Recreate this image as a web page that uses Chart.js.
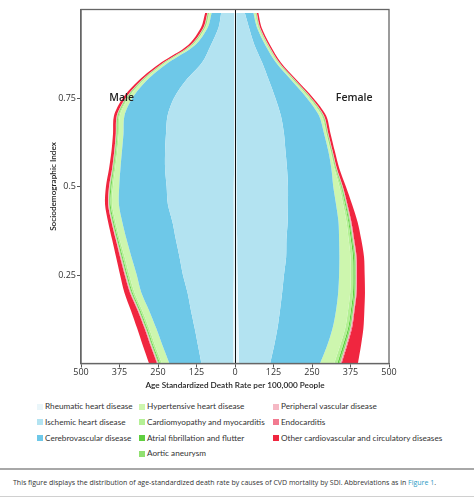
<!DOCTYPE html>
<html><head><meta charset="utf-8">
<script src="https://cdn.jsdelivr.net/npm/chart.js@4"></script>
<style>
html,body{margin:0;padding:0;background:#fff;}
body{width:474px;height:499px;position:relative;overflow:hidden;font-family:"Open Sans",sans-serif;}
#wrap{position:absolute;left:0;top:0;width:474px;height:400px;}
.item{position:absolute;font-family:Lato,sans-serif;font-size:8.2px;color:#333;white-space:nowrap;line-height:10px;}
.sw{position:absolute;width:6px;height:6px;}
#rule{position:absolute;left:0;top:468px;width:474px;height:2px;background:#a8a8a8;}
#rule2{position:absolute;left:0;top:496px;width:474px;height:1px;background:#d0d0d0;}
#caption{position:absolute;left:13px;top:478px;font-size:7px;color:#333;white-space:nowrap;}
#caption span{color:#2a9ac4;}
</style>
</head><body>
<div id="wrap"><canvas id="c" width="474" height="400"></canvas></div>
<div id="legend"></div>
<div id="rule"></div>
<div id="caption">This figure displays the distribution of age-standardized death rate by causes of CVD mortality by SDI. Abbreviations as in <span>Figure 1</span>.</div>
<div id="rule2"></div>
<script>
// Sociodemographic Index sample points (y axis)
const sdi = [0,0.05,0.1,0.15,0.2,0.25,0.3,0.35,0.4,0.45,0.5,0.55,0.6,0.65,0.7,0.75,0.8,0.85,0.9,0.95,0.99];
const causes = ["Rheumatic heart disease","Ischemic heart disease","Cerebrovascular disease","Hypertensive heart disease","Cardiomyopathy and myocarditis","Atrial fibrillation and flutter","Aortic aneurysm","Peripheral vascular disease","Endocarditis","Other cardiovascular and circulatory diseases"];
const colors = ["#eaf6fa","#b3e3f1","#6ec8e8","#cdf6ae","#b4f095","#5fcf3f","#90e070","#f5b8c4","#f27a90","#f0263f"];
const xTicks = [-500,-375,-250,-125,0,125,250,375,500];
const sdiTicks = [0.25,0.5,0.75];

// Male (per 100,000)
const mRheumatic = [5,5,5,5,5,4,4,4,4,4,4,3,3,3,3,3,3,3,3,3,3];
const mIschemic  = [104,115,126,138,149,165,176,188,199,214,218,224,224,221,216,195,156,104,75,50,42];
const mCerebro   = [104,115,125,136,150,150,156,160,163,159,154,145,140,138,140,135,127,109,51,35,31];
const mHypert    = [24,24,23,22,22,24,22,22,22,22,20,17,15,15,15,13,10,9,8,7,7];
const mCardio    = [6,6,6,6,6,6,6,5,5,5,5,4,4,4,4,3,3,2,2,2,2];
const mAfib      = [3,3,3,3,3,3,3,3,3,3,3,2,2,2,2,2,2,2,2,2,2];
const mAortic    = [3,2,2,2,2,2,2,2,2,2,2,2,2,2,2,2,1,1,1,1,1];
const mPeriph    = [2,2,2,2,2,2,2,2,2,2,2,1,1,1,1,1,1,1,1,1,1];
const mEndo      = [2,2,2,2,2,2,2,1,1,1,1,1,1,1,1,1,1,1,1,1,1];
const mOther     = [26,25,24,22,18,15,13,12,11,10,10,10,9,9,9,9,8,8,8,8,7];

// Female (per 100,000)
const fRheumatic = [13,12,11,10,9,8,7,7,6,6,5,5,5,4,4,4,4,4,4,4,4];
const fIschemic  = [101,115,127,136,144,151,159,160,165,166,167,164,159,155,145,127,106,84,59,41,28];
const fCerebro   = [162,172,179,182,182,179,173,171,165,156,147,144,139,130,124,102,73,45,35,26,28];
const fHypert    = [46,42,41,39,39,38,36,31,26,23,20,10,7,7,8,7,6,5,5,4,5];
const fCardio    = [10,9,9,9,9,8,8,7,6,6,5,3,2,2,3,3,2,2,2,2,2];
const fAfib      = [5,5,4,4,4,4,4,4,3,3,2,2,2,2,2,2,2,1,1,1,1];
const fAortic    = [4,4,4,4,4,4,4,3,3,2,2,1,1,1,1,1,1,1,1,1,1];
const fPeriph    = [2,2,2,2,2,2,2,2,2,1,1,1,1,1,1,1,1,1,1,1,1];
const fEndo      = [3,3,3,2,2,2,2,2,2,2,1,1,1,1,1,1,1,1,1,1,1];
const fOther     = [53,45,37,32,27,25,24,23,20,15,10,8,7,7,7,6,5,5,5,5,5];

const maleSeries = [mRheumatic,mIschemic,mCerebro,mHypert,mCardio,mAfib,mAortic,mPeriph,mEndo,mOther];
const femaleSeries = [fRheumatic,fIschemic,fCerebro,fHypert,fCardio,fAfib,fAortic,fPeriph,fEndo,fOther];

const datasets = [];
maleSeries.forEach((arr,k)=>{
  datasets.push({label:causes[k]+" (Male)",stack:"male",
    data:arr.map((v,i)=>({x:-v,y:sdi[i]})),
    backgroundColor:colors[k],borderWidth:0,pointRadius:0,tension:0.3,
    fill:k===0?"origin":"-1"});
});
femaleSeries.forEach((arr,k)=>{
  datasets.push({label:causes[k]+" (Female)",stack:"female",
    data:arr.map((v,i)=>({x:v,y:sdi[i]})),
    backgroundColor:colors[k],borderWidth:0,pointRadius:0,tension:0.3,
    fill:k===0?"origin":"-1"});
});

const decor = {
  id:"decor",
  afterDatasetsDraw(chart){
    const {ctx,chartArea:a,scales:{x,y}} = chart;
    ctx.save();
    const x0 = Math.round(x.getPixelForValue(0))+0.5;
    ctx.strokeStyle="#111";ctx.lineWidth=1;
    ctx.beginPath();ctx.moveTo(x0,a.top);ctx.lineTo(x0,a.bottom);ctx.stroke();
    ctx.strokeStyle="#666";ctx.lineWidth=1.3;
    ctx.strokeRect(a.left,a.top,a.right-a.left,a.bottom-a.top);
    ctx.fillStyle="#222";ctx.font="600 10.5px 'Open Sans'";
    ctx.textAlign="center";ctx.textBaseline="middle";
    ctx.fillText("Male",x.getPixelForValue(-368),y.getPixelForValue(0.75));
    ctx.fillText("Female",x.getPixelForValue(387),y.getPixelForValue(0.75));
    ctx.restore();
  }
};

new Chart(document.getElementById("c"),{
  type:"line",
  data:{datasets},
  plugins:[decor],
  options:{
    indexAxis:"y",responsive:false,animation:false,
    layout:{padding:{left:44,right:85,top:9.5,bottom:6}},
    plugins:{legend:{display:false},tooltip:{enabled:false}},
    scales:{
      x:{type:"linear",min:-500,max:500,stacked:true,
        afterBuildTicks(s){s.ticks=xTicks.map(v=>({value:v}));},
        afterFit(s){s.height=30.5;},
        ticks:{callback:v=>String(Math.abs(v)),color:"#333",font:{family:"Open Sans",size:9},padding:0,maxRotation:0},
        grid:{drawOnChartArea:false,tickLength:4,color:"#555",tickWidth:1},
        border:{color:"#666",width:1.3},
        title:{display:true,text:"Age Standardized Death Rate per 100,000 People",color:"#222",font:{family:"Lato",size:8.2,weight:"600"},padding:{top:2,bottom:4}}
      },
      y:{type:"linear",min:0,max:1,
        afterBuildTicks(s){s.ticks=sdiTicks.map(v=>({value:v}));},
        afterFit(s){s.width=37;},
        ticks:{callback:v=>String(v),color:"#333",font:{family:"Open Sans",size:9},padding:1},
        grid:{drawOnChartArea:false,tickLength:4,color:"#555",tickWidth:1},
        border:{color:"#666",width:1.3},
        title:{display:true,text:"Sociodemographic Index",color:"#222",font:{family:"Lato",size:8.2,weight:"600"},padding:{top:4,bottom:2}}
      }
    }
  }
});

// HTML legend (three columns, as in the figure)
const legendLayout = [[0,1,2],[3,4,5,6],[7,8,9]];
const colX = [37,139,273];
const rowY = [406.5,422.3,438,453.8];
const lg = document.getElementById("legend");
legendLayout.forEach((col,ci)=>{
  col.forEach((k,ri)=>{
    const sw=document.createElement("div");sw.className="sw";
    sw.style.left=colX[ci]+"px";sw.style.top=(rowY[ri]-3)+"px";sw.style.background=colors[k];
    lg.appendChild(sw);
    const t=document.createElement("div");t.className="item";
    t.style.left=(colX[ci]+8)+"px";t.style.top=(rowY[ri]-5.5)+"px";t.textContent=causes[k];
    lg.appendChild(t);
  });
});
</script>
</body></html>
